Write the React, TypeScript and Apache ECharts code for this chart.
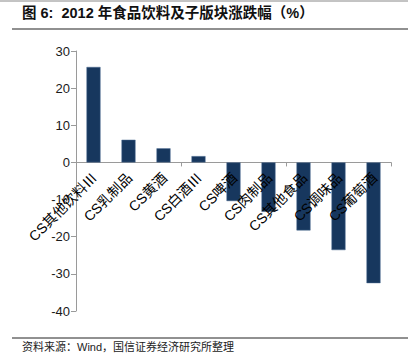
import React, { useEffect, useRef } from "react";
import * as echarts from "echarts";

const categories = ["CS其他饮料Ⅲ", "CS乳制品", "CS黄酒", "CS白酒Ⅲ", "CS啤酒", "CS肉制品", "CS其他食品", "CS调味品", "CS葡萄酒"];
const values = [25.7, 6.1, 3.8, 1.7, -10.4, -13.3, -18.3, -23.6, -32.5];
const titleText = "图 6:  2012 年食品饮料及子版块涨跌幅（%）";
const sourceText = "资料来源：Wind，国信证券经济研究所整理";

const FONT = "'Liberation Sans', 'Noto Sans CJK SC', sans-serif";

export default function App() {
  const ref = useRef<HTMLDivElement>(null);
  useEffect(() => {
    if (!ref.current) return;
    const chart = echarts.init(ref.current, null, { renderer: "svg" });
    chart.setOption({
      animation: false,
      backgroundColor: "#ffffff",
      textStyle: { fontFamily: FONT },
      grid: { left: 76, right: 17, top: 51, bottom: 50, containLabel: false, outerBoundsMode: "none" },
      xAxis: {
        type: "category",
        data: categories,
        axisLine: { onZero: true, lineStyle: { color: "#9a9a9a", width: 1 } },
        axisTick: { show: true, alignWithLabel: false, length: 4, lineStyle: { color: "#9a9a9a" } },
        axisLabel: { show: false },
      },
      yAxis: {
        type: "value",
        min: -40,
        max: 30,
        interval: 10,
        splitLine: { show: false },
        axisLine: { show: true, lineStyle: { color: "#9a9a9a", width: 1 } },
        axisTick: { show: true, length: 5, lineStyle: { color: "#9a9a9a" } },
        axisLabel: { fontSize: 13, color: "#1a1a1a", margin: 6, fontFamily: FONT },
      },
      series: [
        {
          type: "bar",
          data: values,
          barWidth: "40%",
          itemStyle: { color: "#17375E", borderColor: "#4a6a90", borderWidth: 0.5 },
        },
        {
          type: "custom",
          data: categories.map((_, i) => [i, 0]),
          silent: true,
          z: 10,
          renderItem: (params: any, api: any) => {
            const p = api.coord([api.value(0), 0]);
            return {
              type: "text",
              x: p[0] + 1,
              y: p[1] + 13,
              rotation: Math.PI / 4,
              style: {
                text: categories[params.dataIndex],
                align: "right",
                verticalAlign: "middle",
                font: "14px " + FONT,
                fill: "#000000",
              },
            };
          },
        },
      ],
      graphic: [
        { type: "line", shape: { x1: 0, y1: 1, x2: 408, y2: 1 }, style: { stroke: "#888888", lineWidth: 1 } },
        { type: "line", shape: { x1: 12, y1: 29, x2: 408, y2: 29 }, style: { stroke: "#222222", lineWidth: 1.2 } },
        {
          type: "text",
          left: 22,
          top: 6,
          style: { text: titleText, font: "bold 14.5px " + FONT, fill: "#111111" },
        },
        { type: "line", shape: { x1: 12, y1: 338, x2: 408, y2: 338 }, style: { stroke: "#222222", lineWidth: 1 } },
        {
          type: "text",
          left: 22,
          top: 341,
          style: { text: sourceText, font: "11px " + FONT, fill: "#222222" },
        },
      ],
    });
    return () => chart.dispose();
  }, []);
  return <div ref={ref} style={{ position: "fixed", left: 0, top: 0, width: 408, height: 361 }} />;
}
